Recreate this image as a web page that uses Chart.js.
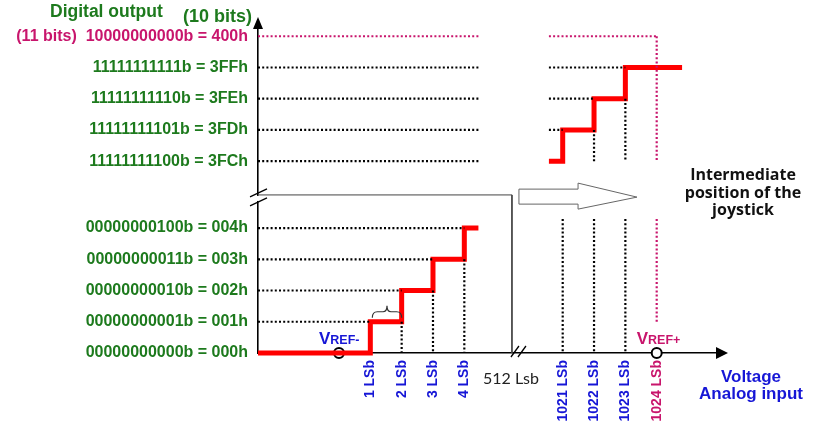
<!DOCTYPE html>
<html>
<head>
<meta charset="utf-8">
<script src="https://cdn.jsdelivr.net/npm/chart.js@4.4.0/dist/chart.umd.min.js"></script>
<style>
  body { margin: 0; background: #fff; }
  #wrap { width: 829px; height: 439px; }
</style>
</head>
<body>
<div id="wrap"><canvas id="adc"></canvas></div>
<script>
// output codes shown on the vertical axis
var yCodes = [0x000, 0x001, 0x002, 0x003, 0x004, 0x3FC, 0x3FD, 0x3FE, 0x3FF, 0x400];
var yLabels = [
  "00000000000b = 000h", "00000000001b = 001h", "00000000010b = 002h",
  "00000000011b = 003h", "00000000100b = 004h", "11111111100b = 3FCh",
  "11111111101b = 3FDh", "11111111110b = 3FEh", "11111111111b = 3FFh",
  "(11 bits)  10000000000b = 400h"
];
// analog input in LSb shown on the horizontal axis
var xLsb = [1, 2, 3, 4, 1021, 1022, 1023, 1024];
var xLabels = ["1 LSb", "2 LSb", "3 LSb", "4 LSb", "1021 LSb", "1022 LSb", "1023 LSb", "1024 LSb"];
// transfer function: code c starts at c LSb
var lowCodes = [0, 1, 2, 3, 4];
var highCodes = [0x3FC, 0x3FD, 0x3FE, 0x3FF];
var fullScale = 0x400;

var GREEN = "#1d7a1d", MAGENTA = "#c8156c", BLUE = "#1616d6", RED = "#ff0000";
var FONT = "'Liberation Sans', Arial, sans-serif";

// broken axes: values above 512 are pulled in next to the small ones
var GAP = 1013.86;
function pos(v) { return v > 512 ? v - GAP : v; }

var X_MIN = -2.585, X_MAX = 12.32, Y_MAX = 10.66;
var CUT_A = 4.45, CUT_B = 6.7;      // end of lower part / start of upper part (x)
var LOW_TOP = 4.29;                 // top of lower dotted verticals
var BREAK_X = 5.52, BREAK_Y = 5.06; // frame of lower part
var RED_END = 10.95;

function seg(a, b) { return [a, b, {x: b.x, y: null}]; }

// red steps
var redLow = [{x: X_MIN, y: 0}];
lowCodes.slice(1).forEach(function (c) {
  redLow.push({x: pos(c), y: pos(c - 1)}, {x: pos(c), y: pos(c)});
});
redLow.push({x: CUT_A, y: pos(lowCodes[lowCodes.length - 1])});

var redHigh = [{x: CUT_B, y: pos(highCodes[0])}];
highCodes.slice(1).forEach(function (c) {
  redHigh.push({x: pos(c), y: pos(c - 1)}, {x: pos(c), y: pos(c)});
});
redHigh.push({x: RED_END, y: pos(highCodes[highCodes.length - 1])});

// dotted guides
var dotH = [], dotV = [], dotM = [];
lowCodes.slice(1).forEach(function (c) {
  dotH = dotH.concat(seg({x: X_MIN, y: c}, {x: pos(c), y: c}));
  if (c > 1) dotV = dotV.concat(seg({x: pos(c), y: c - 1}, {x: pos(c), y: 0}));
});
highCodes.forEach(function (c) {
  var y = pos(c);
  dotH = dotH.concat(seg({x: X_MIN, y: y}, {x: CUT_A, y: y}));
  if (pos(c) > CUT_B) dotH = dotH.concat(seg({x: CUT_B, y: y}, {x: pos(c), y: y}));
});
xLsb.slice(4, 7).forEach(function (k) {
  var x = pos(k);
  if (pos(k - 1) > pos(highCodes[0])) dotV = dotV.concat(seg({x: x, y: pos(k - 1)}, {x: x, y: pos(highCodes[0])}));
  dotV = dotV.concat(seg({x: x, y: LOW_TOP}, {x: x, y: 0}));
});
var fsY = pos(fullScale), fsX = pos(1024);
dotM = dotM.concat(seg({x: X_MIN, y: fsY}, {x: CUT_A, y: fsY}));
dotM = dotM.concat(seg({x: CUT_B, y: fsY}, {x: fsX, y: fsY}));
dotM = dotM.concat(seg({x: fsX, y: fsY}, {x: fsX, y: pos(highCodes[0])}));
dotM = dotM.concat(seg({x: fsX, y: LOW_TOP}, {x: fsX, y: 1.0}));

var frame = [{x: X_MIN, y: BREAK_Y}, {x: BREAK_X, y: BREAK_Y}, {x: BREAK_X, y: 0}];
var refs = [{x: 0, y: 0}, {x: fsX, y: 0}];

function lineDs(data, color, width, dash) {
  return {
    data: data, borderColor: color, borderWidth: width, borderDash: dash || [],
    pointRadius: 0, fill: false, tension: 0, spanGaps: false, clip: false,
    borderCapStyle: "butt", borderJoinStyle: "miter"
  };
}

var decor = {
  id: "decor",
  afterDraw: function (chart) {
    var c = chart.ctx, sx = chart.scales.x, sy = chart.scales.y;
    var X = function (v) { return sx.getPixelForValue(v); };
    var Y = function (v) { return sy.getPixelForValue(v); };
    var left = chart.chartArea.left, bottom = chart.chartArea.bottom, top = chart.chartArea.top, right = chart.chartArea.right;
    c.save();

    // axis arrow heads
    c.fillStyle = "#000";
    c.beginPath(); c.moveTo(right + 3, bottom); c.lineTo(right - 9, bottom - 6); c.lineTo(right - 9, bottom + 6); c.closePath(); c.fill();
    c.beginPath(); c.moveTo(left, top - 3); c.lineTo(left - 5, top + 9); c.lineTo(left + 5, top + 9); c.closePath(); c.fill();

    // axis breaks
    c.strokeStyle = "#000"; c.lineWidth = 1.3;
    var by = Y(BREAK_Y) + 3;
    c.fillStyle = "#fff"; c.fillRect(left - 2, by - 2, 4, 5);
    [-5, 4].forEach(function (d) {
      c.beginPath(); c.moveTo(left - 8, by + d + 4); c.lineTo(left + 9, by + d - 4); c.stroke();
    });
    var bx = X(BREAK_X);
    [3, 10].forEach(function (d) {
      c.beginPath(); c.moveTo(bx + d - 4, bottom + 4); c.lineTo(bx + d + 4, bottom - 7); c.stroke();
    });

    // hollow arrow towards the upper part
    c.strokeStyle = "#666"; c.lineWidth = 1; c.fillStyle = "#fff";
    var ax0 = bx + 7, ax1 = X(7.63), ax2 = X(9.51), ay = Y(4.99);
    c.beginPath();
    c.moveTo(ax0, ay - 8); c.lineTo(ax1, ay - 8); c.lineTo(ax1, ay - 14); c.lineTo(ax2, ay);
    c.lineTo(ax1, ay + 12); c.lineTo(ax1, ay + 7); c.lineTo(ax0, ay + 7); c.closePath();
    c.fill(); c.stroke();

    // brace over the first step
    var b0 = X(1) + 2, b1 = X(2), bm = (b0 + b1) / 2, byb = Y(1) - 6;
    c.strokeStyle = "#333"; c.lineWidth = 1.2;
    c.beginPath();
    c.moveTo(b0, byb + 2); c.quadraticCurveTo(b0, byb - 4, b0 + 5, byb - 4);
    c.lineTo(bm - 4, byb - 4); c.quadraticCurveTo(bm, byb - 4, bm, byb - 10);
    c.quadraticCurveTo(bm, byb - 4, bm + 4, byb - 4);
    c.lineTo(b1 - 5, byb - 4); c.quadraticCurveTo(b1, byb - 4, b1, byb + 2);
    c.stroke();

    function txt(s, x, y, font, color, align) {
      c.font = font; c.fillStyle = color; c.textAlign = align || "left"; c.textBaseline = "middle";
      c.fillText(s, x, y);
    }
    function vref(x, y, sign, color) {
      c.textBaseline = "alphabetic"; c.textAlign = "left"; c.fillStyle = color;
      c.font = "bold 17px " + FONT; c.fillText("V", x, y);
      var w = c.measureText("V").width;
      c.font = "bold 12.5px " + FONT; c.fillText("REF" + sign, x + w, y);
    }
    vref(X(0) - 20, bottom - 9, "-", BLUE);
    vref(X(fsX) - 20, bottom - 9, "+", MAGENTA);

    txt("Digital output", 50, 12, "bold 17.5px " + FONT, GREEN);
    txt("(10 bits)", 183, 17, "bold 18px " + FONT, GREEN);
    txt("512 Lsb", 483, 379, "16px Lato, " + FONT, "#222");
    txt("Voltage", 751, 377, "bold 17px " + FONT, BLUE, "center");
    txt("Analog input", 751, 394, "bold 17px " + FONT, BLUE, "center");
    txt("Intermediate", 743, 175, "bold 16px 'Open Sans', " + FONT, "#111", "center");
    txt("position of the", 743, 193, "bold 16px 'Open Sans', " + FONT, "#111", "center");
    txt("joystick", 743, 210, "bold 16px 'Open Sans', " + FONT, "#111", "center");
    c.restore();
  }
};

new Chart(document.getElementById("adc"), {
  type: "line",
  data: {
    datasets: [
      lineDs(frame, "#444", 1),
      lineDs(dotH, "#000", 2.2, [2, 2.2]),
      lineDs(dotV, "#000", 2.2, [2, 2.2]),
      lineDs(dotM, MAGENTA, 2.2, [2, 2.2]),
      lineDs(redLow, RED, 5),
      lineDs(redHigh, RED, 5),
      {
        data: refs, showLine: false, clip: false,
        pointRadius: 5, pointBorderWidth: 2, pointBorderColor: "#000", pointBackgroundColor: "#fff"
      }
    ]
  },
  options: {
    responsive: true,
    maintainAspectRatio: false,
    animation: false,
    events: [],
    layout: { padding: { top: 20, right: 104, left: 0, bottom: 0 } },
    plugins: { legend: { display: false }, tooltip: { enabled: false } },
    scales: {
      x: {
        type: "linear", min: X_MIN, max: X_MAX,
        grid: { display: false, drawTicks: false },
        border: { display: true, color: "#000", width: 1.6 },
        afterBuildTicks: function (s) { s.ticks = xLsb.map(function (v) { return {value: pos(v)}; }); },
        afterFit: function (s) { s.height = 86; },
        ticks: {
          autoSkip: false, minRotation: 90, maxRotation: 90, padding: 7,
          font: { family: FONT, size: 14, weight: "bold" },
          color: function (ctx) { return xLsb[ctx.index] === 1024 ? MAGENTA : BLUE; },
          callback: function (v, i) { return xLabels[i]; }
        }
      },
      y: {
        type: "linear", min: 0, max: Y_MAX,
        grid: { display: false, drawTicks: false },
        border: { display: true, color: "#000", width: 1.6 },
        afterBuildTicks: function (s) { s.ticks = yCodes.map(function (v) { return {value: pos(v)}; }); },
        afterFit: function (s) { s.width = 258; },
        ticks: {
          autoSkip: false, padding: 10,
          font: { family: FONT, size: 16, weight: "bold" },
          color: function (ctx) { return yCodes[ctx.index] === fullScale ? MAGENTA : GREEN; },
          callback: function (v, i) { return yLabels[i]; }
        }
      }
    }
  },
  plugins: [decor]
});
</script>
</body>
</html>
